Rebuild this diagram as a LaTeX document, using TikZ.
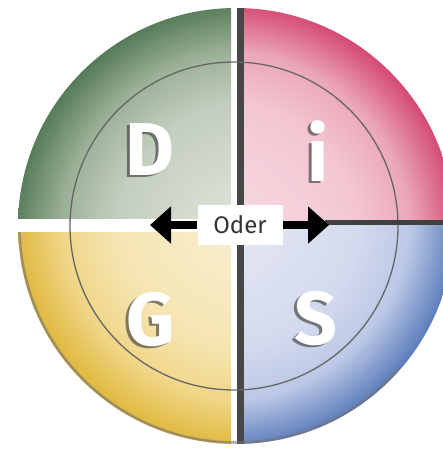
\documentclass[tikz,border=0pt]{standalone}
\usepackage{fontspec}
\setmainfont{Fira Sans}
\usetikzlibrary{arrows.meta}

\definecolor{grnA}{HTML}{E4E8E0}
\definecolor{grnB}{HTML}{C3CEBE}
\definecolor{grnC}{HTML}{9DB199}
\definecolor{grnD}{HTML}{2F5E35}
\definecolor{pnkA}{HTML}{F7DEE4}
\definecolor{pnkB}{HTML}{F3C6D2}
\definecolor{pnkC}{HTML}{EBA7BA}
\definecolor{pnkD}{HTML}{C8174A}
\definecolor{ylwA}{HTML}{FAF1D6}
\definecolor{ylwB}{HTML}{F5E5B2}
\definecolor{ylwC}{HTML}{F0D688}
\definecolor{ylwD}{HTML}{D6A712}
\definecolor{bluA}{HTML}{E8EBF5}
\definecolor{bluB}{HTML}{D4DAEE}
\definecolor{bluC}{HTML}{BCC8E6}
\definecolor{bluD}{HTML}{2654A3}

\pgfdeclareradialshading{grnfade}{\pgfpoint{0bp}{0bp}}{color(0bp)=(grnA); color(12bp)=(grnB); color(16.5bp)=(grnC); color(23bp)=(grnD); color(50bp)=(grnD)}
\pgfdeclareradialshading{pnkfade}{\pgfpoint{0bp}{0bp}}{color(0bp)=(pnkA); color(12bp)=(pnkB); color(16.5bp)=(pnkC); color(23bp)=(pnkD); color(50bp)=(pnkD)}
\pgfdeclareradialshading{ylwfade}{\pgfpoint{0bp}{0bp}}{color(0bp)=(ylwA); color(12bp)=(ylwB); color(16.5bp)=(ylwC); color(23bp)=(ylwD); color(50bp)=(ylwD)}
\pgfdeclareradialshading{blufade}{\pgfpoint{0bp}{0bp}}{color(0bp)=(bluA); color(12bp)=(bluB); color(16.5bp)=(bluC); color(23bp)=(bluD); color(50bp)=(bluD)}

\begin{document}
\begin{tikzpicture}[x=1pt,y=-1pt,
   letter/.style={text=white,font=\fontsize{75}{80}\selectfont\bfseries,inner sep=0pt},
   lettershadow/.style={letter,text=black!75,opacity=.65},
   oderbox/.style={fill=white,minimum width=85pt,minimum height=40pt,inner sep=0pt,
      font=\fontsize{24}{28}\selectfont,text=black!80},
   fatarrow/.style={line width=8pt,-{Triangle[length=21pt,width=36pt]}},
   divider/.style={line width=5pt,black!75},
   innerring/.style={line width=1.3pt,black!60},
   rimshadow/.style={line width=2.5pt,black!55,opacity=.6}]
   \useasboundingbox (0,0) rectangle (443,452);
   \begin{scope}
      \clip (236,226) circle (218);
      \foreach \shd/\x/\y/\w/\h/\cx/\cy in {grnfade/0/0/231/218/252/242,
            pnkfade/244/0/210/221/220/242, ylwfade/0/232/231/220/252/210,
            blufade/244/224/210/228/220/210}{
         \begin{scope}
            \clip (\x,\y) rectangle ++(\w,\h);
            \shade[shading=\shd] (\cx,\cy) circle (290);
         \end{scope}
      }
      \fill[black!72] (237,0) rectangle (244,452);
   \end{scope}
   \begin{scope}
      \clip (0,232) rectangle (400,452);
      \draw[rimshadow] (236,226) circle (216.5);
   \end{scope}
   \draw[innerring] (234,226) circle (164);
   \foreach \l/\lx/\ly in {D/150/150, i/318/151, G/151/320, S/316/319}{
      \node[lettershadow] (\l-sh) at (\lx-3,\ly+2) {\l};
      \node[letter] (\l) at (\lx,\ly) {\l};
   }
   \coordinate (lefttip) at (150,225);
   \coordinate (righttip) at (329,225);
   \coordinate (lineend) at (325,222);
   \coordinate (rimright) at (443,222);
   \draw[divider] (lineend) -- (rimright);
   \node[oderbox] (oder) at (240,225) {Oder};
   \draw[fatarrow] (oder.west) -- (lefttip);
   \draw[fatarrow] (oder.east) -- (righttip);
\end{tikzpicture}
\end{document}
